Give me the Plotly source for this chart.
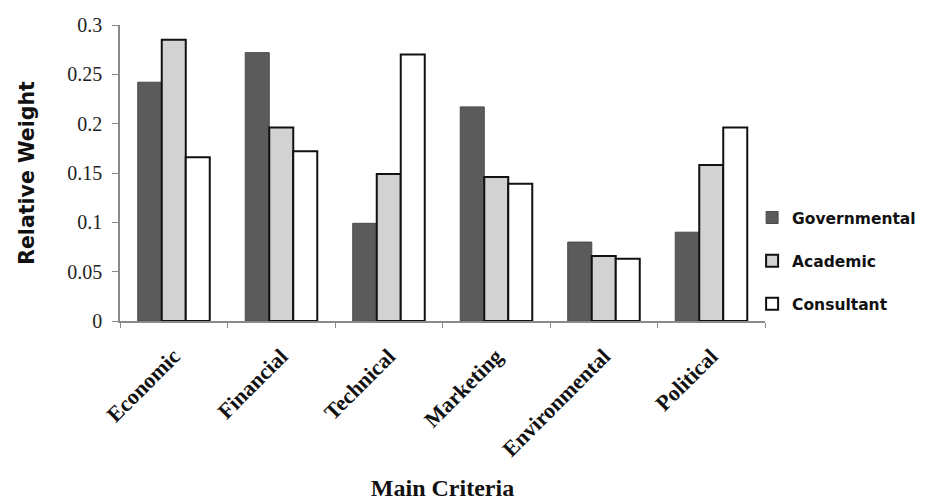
import plotly.graph_objects as go

categories = ["Economic", "Financial", "Technical", "Marketing", "Environmental", "Political"]
governmental = [0.242, 0.272, 0.099, 0.217, 0.080, 0.090]
academic = [0.285, 0.196, 0.149, 0.146, 0.066, 0.158]
consultant = [0.166, 0.172, 0.270, 0.139, 0.063, 0.196]
y_ticks = [0, 0.05, 0.1, 0.15, 0.2, 0.25, 0.3]
y_tick_labels = ["0", "0.05", "0.1", "0.15", "0.2", "0.25", "0.3"]

fig = go.Figure()
fig.add_trace(go.Bar(name="Governmental", x=categories, y=governmental,
                     marker=dict(color="#5b5b5b", line=dict(color="#4a4a4a", width=1)),
                     legendgroup="g"))
fig.add_trace(go.Bar(name="Academic", x=categories, y=academic,
                     marker=dict(color="#d2d2d2", line=dict(color="#111111", width=2)),
                     legendgroup="a"))
fig.add_trace(go.Bar(name="Consultant", x=categories, y=consultant,
                     marker=dict(color="#ffffff", line=dict(color="#111111", width=2)),
                     legendgroup="c"))

serif = "Liberation Serif, Times New Roman, serif"
sans = "DejaVu Sans, sans-serif"

fig.update_layout(
    width=918, height=493,
    margin=dict(l=112, r=161, t=17, b=180, autoexpand=False),
    paper_bgcolor="white", plot_bgcolor="white",
    barmode="group", bargap=0.33, bargroupgap=0,
    showlegend=True,
    legend=dict(x=0.98, xanchor="left", y=0.203, yanchor="middle",
                traceorder="grouped", tracegroupgap=20,
                font=dict(family=sans, size=15.5, color="#111111", weight="bold"),
                itemwidth=30),
    xaxis=dict(
        automargin=False,
        showline=True, linecolor="#8a8a8a", linewidth=1.5,
        ticks="outside", tickson="boundaries", ticklen=5, tickcolor="#8a8a8a",
        tickangle=-45, ticklabelstandoff=12,
        tickfont=dict(family=serif, size=22, color="#111111", weight="bold"),
        title=dict(text="<b>Main Criteria</b>", font=dict(family=serif, size=24, color="#111111"),
                   standoff=28),
        showgrid=False,
    ),
    yaxis=dict(
        automargin=False,
        range=[0, 0.3],
        tickvals=y_ticks, ticktext=y_tick_labels,
        showline=True, linecolor="#8a8a8a", linewidth=1.5,
        ticks="outside", ticklen=6, tickcolor="#8a8a8a", ticklabelstandoff=6,
        tickfont=dict(family=serif, size=20, color="#222222"),
        title=dict(text="<b>Relative Weight</b>", font=dict(family=sans, size=20.5, color="#111111"),
                   standoff=27),
        showgrid=False, zeroline=False,
    ),
)

fig.write_html("out.html")
